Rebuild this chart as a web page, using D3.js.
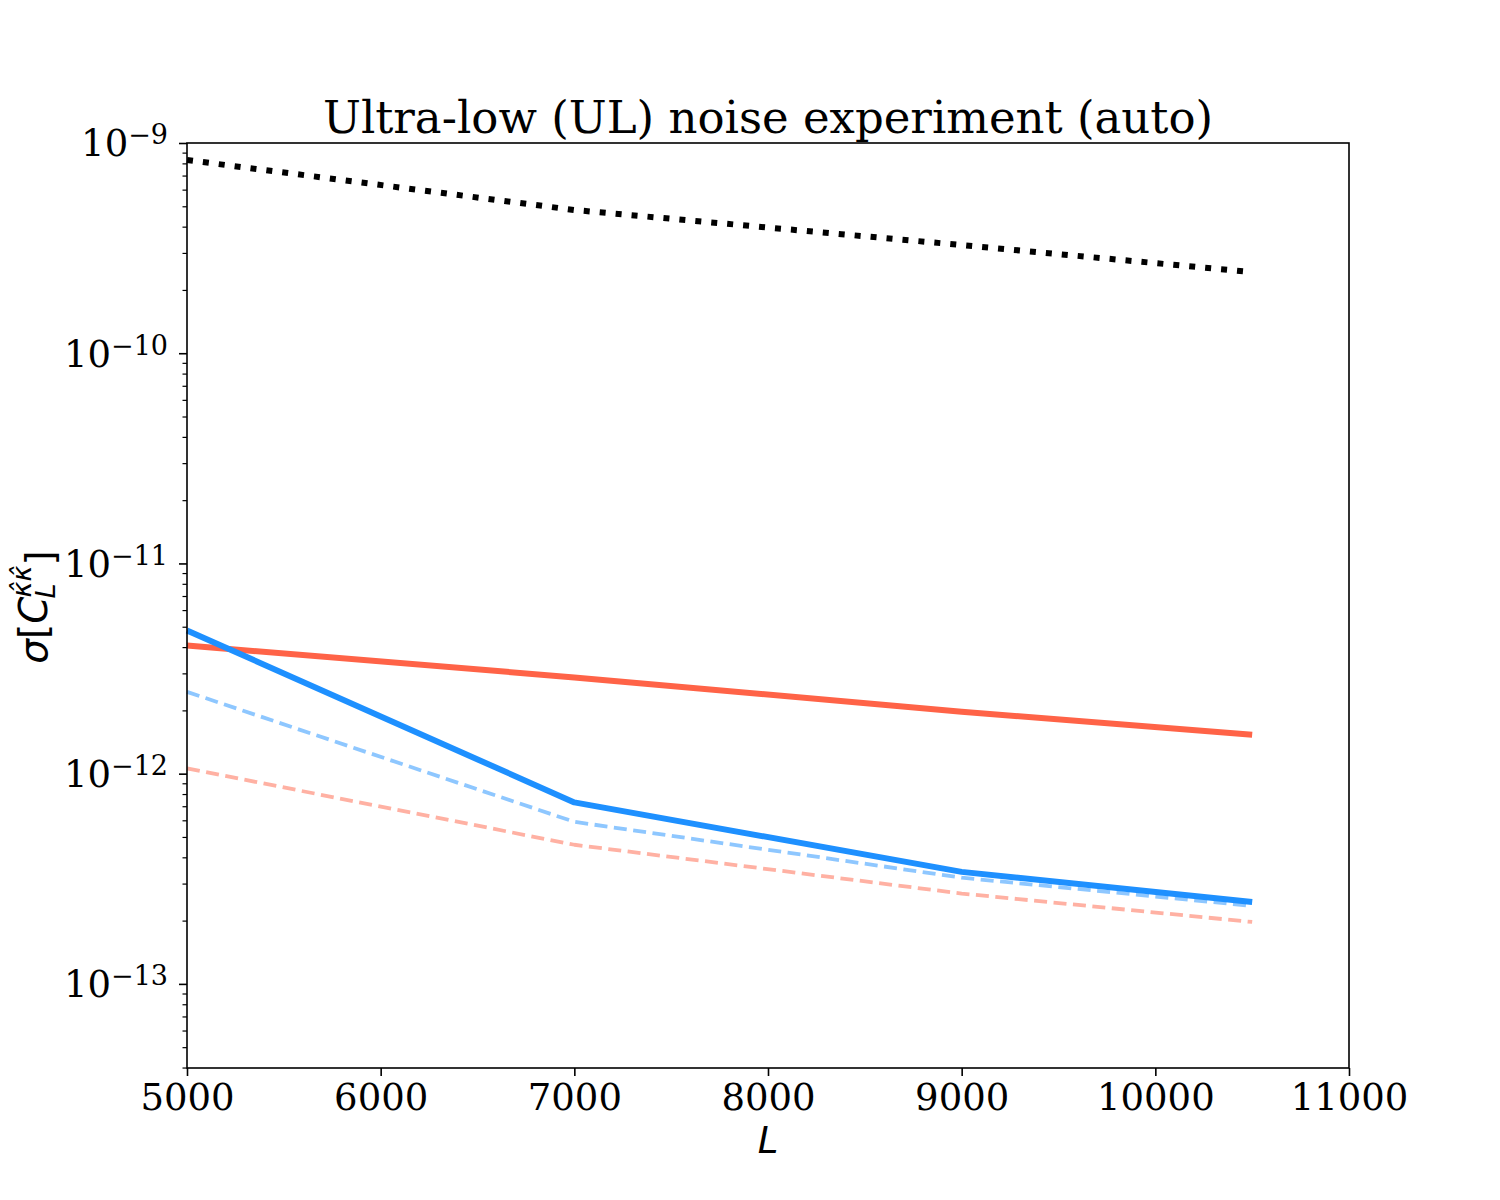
<!DOCTYPE html>
<html>
<head>
<meta charset="utf-8">
<script src="https://cdn.jsdelivr.net/npm/d3@7"></script>
<style>
  body { margin: 0; background: #fff; }
  svg { display: block; }
</style>
</head>
<body>
<div id="chart"></div>
<script>
// values
var ells = [5000, 7000, 9000, 10500];
var cosmicVar = [8.3e-10, 4.8e-10, 3.27e-10, 2.43e-10];
var redSolid = [4.07e-12, 2.87e-12, 1.97e-12, 1.53e-12];
var blueSolid = [4.8e-12, 7.3e-13, 3.41e-13, 2.45e-13];
var blueDashed = [2.45e-12, 5.9e-13, 3.2e-13, 2.35e-13];
var redDashed = [1.06e-12, 4.59e-13, 2.69e-13, 1.97e-13];
var xTicks = [5000, 6000, 7000, 8000, 9000, 10000, 11000];
var yTicks = [-13, -12, -11, -10, -9];

var W = 1500, H = 1200;
var margin = {top: 143, right: 151, bottom: 132, left: 187},
    width = W - margin.left - margin.right,
    height = H - margin.top - margin.bottom;

var svg = d3.select("#chart").append("svg")
    .attr("width", W).attr("height", H);

var g = svg.append("g")
    .attr("transform", "translate(" + margin.left + "," + margin.top + ")");

var x = d3.scaleLinear().domain([5000, 11000]).range([0, width]);
var y = d3.scaleLog().domain([3.98e-14, 1e-9]).range([height, 0]);

var serif = "'DejaVu Serif', serif";
var sans = "'DejaVu Sans', sans-serif";

// minor y ticks
var minor = [];
for (var e = -14; e <= -10; e++) {
  for (var m = 2; m <= 9; m++) {
    var v = m * Math.pow(10, e);
    if (v >= y.domain()[0] && v <= 1e-9) minor.push(v);
  }
}
g.append("g")
  .call(d3.axisLeft(y).tickValues(minor).tickSize(4.5).tickFormat(""))
  .call(function(a) {
    a.select(".domain").remove();
    a.selectAll("line").attr("stroke", "#000").attr("stroke-width", 1.2);
  });

// major y ticks
var yAxis = g.append("g")
  .call(d3.axisLeft(y).tickValues(yTicks.map(function(p) { return Math.pow(10, p); }))
    .tickSize(8).tickPadding(8).tickFormat(""));
yAxis.select(".domain").remove();
yAxis.selectAll("line").attr("stroke", "#000").attr("stroke-width", 1.6);
yAxis.selectAll(".tick").each(function(d) {
  var p = Math.round(Math.log10(d));
  var t = d3.select(this).append("text")
    .attr("x", -19).attr("y", 0).attr("dy", "0.35em")
    .attr("text-anchor", "end")
    .attr("fill", "#000")
    .style("font-family", serif)
    .style("font-size", "37px");
  t.append("tspan").text("10");
  t.append("tspan").attr("dy", "-0.45em").style("font-size", "27px")
    .text("\u2212" + Math.abs(p));
});

// x axis
var xAxis = g.append("g")
  .attr("transform", "translate(0," + height + ")")
  .call(d3.axisBottom(x).tickValues(xTicks).tickSize(8).tickPadding(8)
    .tickFormat(d3.format("d")));
xAxis.select(".domain").remove();
xAxis.selectAll("line").attr("stroke", "#000").attr("stroke-width", 1.6);
xAxis.selectAll("text")
  .style("font-family", serif).style("font-size", "37px").attr("fill", "#000");

// lines
var line = d3.line()
  .x(function(d) { return x(d[0]); })
  .y(function(d) { return y(d[1]); });

function series(vals) { return ells.map(function(l, i) { return [l, vals[i]]; }); }

var lines = [
  {vals: redDashed, color: "#ffb1a3", w: 3.8, dash: "13,6.5"},
  {vals: blueDashed, color: "#8ec7ff", w: 3.8, dash: "13,6.5"},
  {vals: redSolid, color: "#ff6347", w: 6, dash: null},
  {vals: blueSolid, color: "#1e90ff", w: 6, dash: null},
  {vals: cosmicVar, color: "#000", w: 6, dash: "6,10"}
];

lines.forEach(function(s) {
  g.append("path")
    .datum(series(s.vals))
    .attr("d", line)
    .attr("fill", "none")
    .attr("stroke", s.color)
    .attr("stroke-width", s.w)
    .attr("stroke-dasharray", s.dash)
    .attr("stroke-linejoin", "round");
});

// frame
g.append("rect")
  .attr("width", width).attr("height", height)
  .attr("fill", "none").attr("stroke", "#000").attr("stroke-width", 1.6);

// title
svg.append("text")
  .attr("x", margin.left + width / 2).attr("y", 133)
  .attr("text-anchor", "middle")
  .style("font-family", serif).style("font-size", "45px")
  .text("Ultra-low (UL) noise experiment (auto)");

// x label
svg.append("text")
  .attr("x", margin.left + width / 2).attr("y", 1153)
  .attr("text-anchor", "middle")
  .style("font-family", sans).style("font-size", "37px").style("font-style", "italic")
  .text("L");

// y label
var yl = svg.append("text")
  .attr("transform", "translate(47,607) rotate(-90)")
  .attr("text-anchor", "middle")
  .style("font-family", sans).style("font-size", "39px");
yl.append("tspan").style("font-style", "italic").text("\u03c3");
yl.append("tspan").text("[");
yl.append("tspan").style("font-style", "italic").text("C");
yl.append("tspan").attr("dy", "0.3em").attr("dx", "-2").style("font-size", "27px").style("font-style", "italic").text("L");
yl.append("tspan").attr("dy", "-0.9em").attr("dx", "-14").style("font-size", "27px").style("font-style", "italic").text("\u03ba\u0302\u03ba\u0302");
yl.append("tspan").attr("dy", "0.6em").text("]");
</script>
</body>
</html>
